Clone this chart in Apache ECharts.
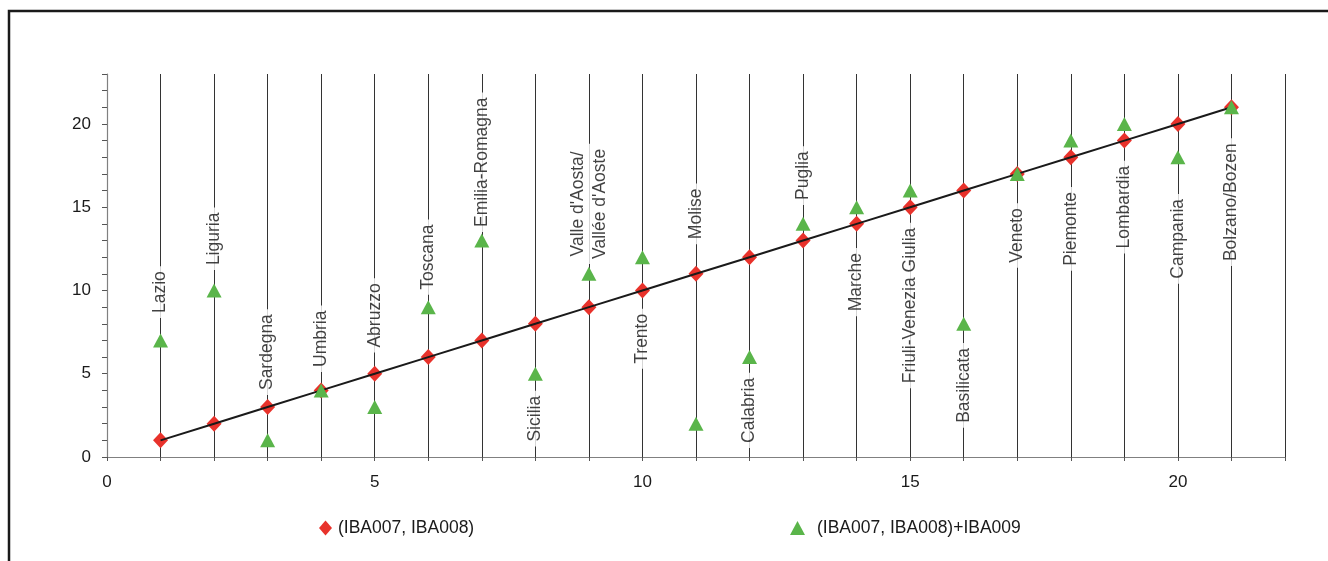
<!DOCTYPE html>
<html>
<head>
<meta charset="utf-8">
<script src="https://cdn.jsdelivr.net/npm/echarts@6/dist/echarts.min.js"></script>
<style>
html,body{margin:0;padding:0;background:#fff;}
#chart{width:1328px;height:561px;}
</style>
</head>
<body>
<div id="chart"></div>
<script>
// Data
const regions = ["Lazio","Liguria","Sardegna","Umbria","Abruzzo","Toscana","Emilia-Romagna","Sicilia","Valle d'Aosta/\nVallée d'Aoste","Trento","Molise","Calabria","Puglia","Marche","Friuli-Venezia Giulia","Basilicata","Veneto","Piemonte","Lombardia","Campania","Bolzano/Bozen"];
const rankX = [1,2,3,4,5,6,7,8,9,10,11,12,13,14,15,16,17,18,19,20,21];
const rank78 = [1,2,3,4,5,6,7,8,9,10,11,12,13,14,15,16,17,18,19,20,21];
const rank789 = [7,10,1,4,3,9,13,5,11,12,2,6,14,15,16,8,17,19,20,18,21];
const labelAt = [9.9,13.1,6.3,7.1,8.5,12.0,17.7,2.3,15.2,7.1,14.6,2.8,16.9,10.5,9.1,4.3,13.3,13.7,15.0,13.1,15.3];
const seriesNames = ["(IBA007, IBA008)","(IBA007, IBA008)+IBA009"];
const xTicks = {min:0, max:22, step:1, labelEvery:5};
const yTicks = {min:0, max:23, step:1, labelEvery:5};

const FONT = "'Liberation Sans', Arial, sans-serif";
const RED = '#e8322b', GREEN = '#5ab54a';

const d78 = rankX.map((x,i)=>[x, rank78[i]]);
const d789 = rankX.map((x,i)=>[x, rank789[i]]);
const dLab = rankX.map((x,i)=>({value:[x, labelAt[i]], name: regions[i]}));

const chart = echarts.init(document.getElementById('chart'), null, {renderer:'canvas'});
chart.setOption({
  animation:false,
  backgroundColor:'#fff',
  graphic:[{type:'rect', shape:{x:9, y:11, width:1400, height:700}, style:{fill:null, stroke:'#1a1a1a', lineWidth:2.5}, silent:true, z:100}],
  grid:{left:107, right:43, top:74, bottom:104},
  xAxis:{
    type:'value', min:xTicks.min, max:xTicks.max, interval:xTicks.step,
    axisLine:{show:true, onZero:false, lineStyle:{color:'#808080', width:1.2}},
    axisTick:{show:true, length:4, inside:false, lineStyle:{color:'#555'}},
    axisLabel:{margin:17, color:'#1a1a1a', fontFamily:FONT, fontSize:17,
      formatter:v=> (v % xTicks.labelEvery === 0 ? String(v) : '')},
    splitLine:{show:true, showMinLine:false, lineStyle:{color:'#333', width:1}}
  },
  yAxis:{
    type:'value', min:yTicks.min, max:yTicks.max, interval:yTicks.step,
    axisLine:{show:true, onZero:false, lineStyle:{color:'#808080', width:1.2}},
    axisTick:{show:true, length:5, lineStyle:{color:'#555'}},
    axisLabel:{margin:16, color:'#1a1a1a', fontFamily:FONT, fontSize:17,
      formatter:v=> (v % yTicks.labelEvery === 0 ? String(v) : '')},
    splitLine:{show:false}
  },
  legend:[
    {data:[seriesNames[0]], left:314, top:514, itemWidth:13, itemHeight:15,
     textStyle:{fontFamily:FONT, fontSize:17.5, color:'#1a1a1a', padding:[0,0,0,1]}},
    {data:[seriesNames[1]], left:785, top:514, itemWidth:15, itemHeight:14,
     textStyle:{fontFamily:FONT, fontSize:17.5, color:'#1a1a1a', padding:[0,0,0,7]}}
  ],
  series:[
    {type:'scatter', name:'labels', data:dLab, symbolSize:0, z:3,
     label:{show:true, position:'inside', rotate:90, formatter:p=>p.name,
       fontFamily:FONT, fontSize:17.5, color:'#111', lineHeight:22,
       backgroundColor:'#fff', padding:[0,5,0,5]}},
    {type:'scatter', name:seriesNames[0], data:d78, symbol:'diamond', symbolSize:[15,16],
     itemStyle:{color:RED, opacity:1}, z:4},
    {type:'line', name:'diag', data:d78, symbol:'none', lineStyle:{color:'#1a1a1a', width:2}, z:5},
    {type:'scatter', name:seriesNames[1], data:d789, symbol:'triangle', symbolSize:[15,14],
     itemStyle:{color:GREEN, opacity:1}, z:6}
  ]
});
</script>
</body>
</html>
